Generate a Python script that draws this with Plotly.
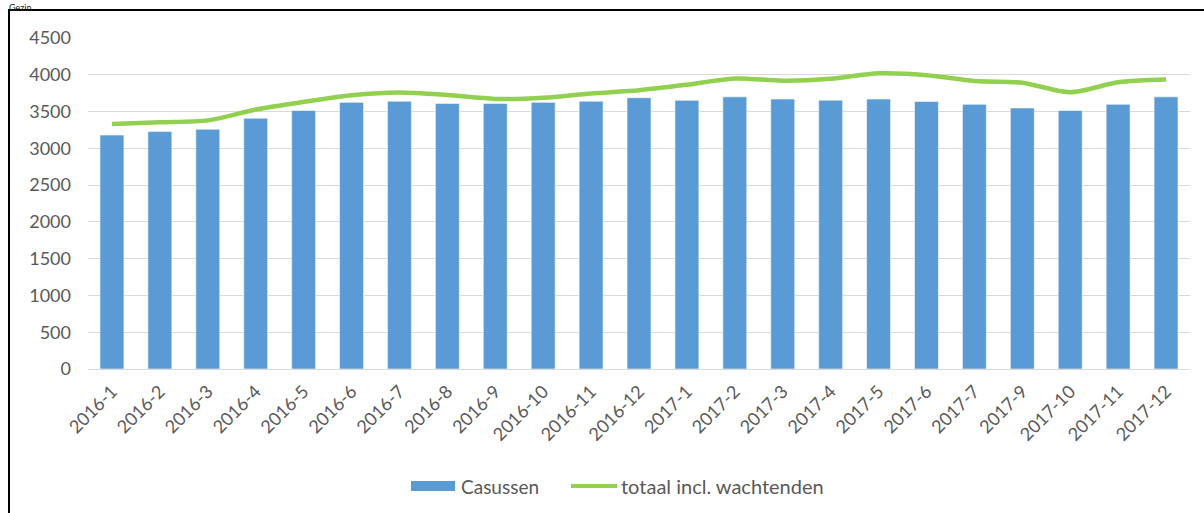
import plotly.graph_objects as go

# ---- data ----
categories = ["2016-1", "2016-2", "2016-3", "2016-4", "2016-5", "2016-6", "2016-7",
              "2016-8", "2016-9", "2016-10", "2016-11", "2016-12", "2017-1", "2017-2",
              "2017-3", "2017-4", "2017-5", "2017-6", "2017-7", "2017-9", "2017-10",
              "2017-11", "2017-12"]
casussen = [3180, 3230, 3260, 3410, 3515, 3625, 3640, 3610, 3610, 3625, 3640, 3688,
            3653, 3700, 3670, 3655, 3670, 3638, 3598, 3548, 3515, 3598, 3700]
totaal = [3330, 3355, 3380, 3528, 3632, 3722, 3760, 3725, 3672, 3688, 3745, 3790,
          3865, 3950, 3920, 3945, 4020, 3995, 3915, 3893, 3762, 3898, 3935]
yticks = [0, 500, 1000, 1500, 2000, 2500, 3000, 3500, 4000, 4500]

W, H = 1204, 513
ML, MR, MT, MB = 88, 14, 38, 144
PW, PH = W - ML - MR, H - MT - MB

def px(x):
    return (x - ML) / PW

def py(y):
    return (H - MB - y) / PH

FONT = "Lato, 'Open Sans', sans-serif"
GRAY = "#595959"

fig = go.Figure()
fig.add_trace(go.Bar(
    x=categories, y=casussen, name="Casussen",
    marker=dict(color="#5B9BD5", line=dict(color="rgba(255,255,255,0.55)", width=1)),
    showlegend=False,
))
fig.add_trace(go.Scatter(
    x=categories, y=totaal, name="totaal incl. wachtenden", mode="lines",
    line=dict(color="#92D050", width=4.5, shape="spline", smoothing=0.8),
    showlegend=False,
))

shapes = [
    # outer chart frame
    dict(type="rect", xref="paper", yref="paper",
         x0=px(9), x1=px(1260), y0=py(560), y1=py(10),
         line=dict(color="black", width=2), fillcolor="rgba(0,0,0,0)", layer="below"),
    # legend symbols
    dict(type="rect", xref="paper", yref="paper",
         x0=px(411), x1=px(455), y0=py(491), y1=py(481),
         line=dict(width=0), fillcolor="#5B9BD5"),
    dict(type="line", xref="paper", yref="paper",
         x0=px(571), x1=px(617), y0=py(486), y1=py(486),
         line=dict(color="#92D050", width=4)),
]

annotations = [
    dict(text="Casussen", xref="paper", yref="paper", x=px(459), y=py(486),
         xanchor="left", yanchor="middle", showarrow=False,
         font=dict(family=FONT, size=19, color=GRAY)),
    dict(text="totaal incl. wachtenden", xref="paper", yref="paper", x=px(619), y=py(486),
         xanchor="left", yanchor="middle", showarrow=False,
         font=dict(family=FONT, size=20, color=GRAY)),
    # title at the very top (cropped in the source)
    dict(text="Gezin", xref="paper", yref="paper", x=px(7), y=py(0),
         xanchor="left", yanchor="top", showarrow=False,
         font=dict(family=FONT, size=9, color="#222222")),
]

fig.update_layout(
    width=W, height=H,
    margin=dict(l=ML, r=MR, t=MT, b=MB, pad=0),
    paper_bgcolor="white", plot_bgcolor="white",
    bargap=0.5,
    font=dict(family=FONT, size=18, color=GRAY),
    shapes=shapes, annotations=annotations,
    showlegend=False,
    xaxis=dict(
        type="category", tickangle=-45, showgrid=False,
        showline=True, linecolor="#D9D9D9", linewidth=1,
        ticks="", ticklabelstandoff=4,
        tickfont=dict(family=FONT, size=18, color=GRAY),
        range=[-0.5, len(categories) - 0.5],
    ),
    yaxis=dict(
        range=[0, 4500], tickvals=yticks, showgrid=True, gridcolor="#D9D9D9",
        gridwidth=1, zeroline=False, showline=False, ticks="",
        ticklabelstandoff=16,
        tickfont=dict(family=FONT, size=18, color=GRAY),
    ),
)

fig.write_html("out.html", config={"displayModeBar": False},
               post_script="document.body.style.margin='0';document.body.style.overflow='hidden';")
